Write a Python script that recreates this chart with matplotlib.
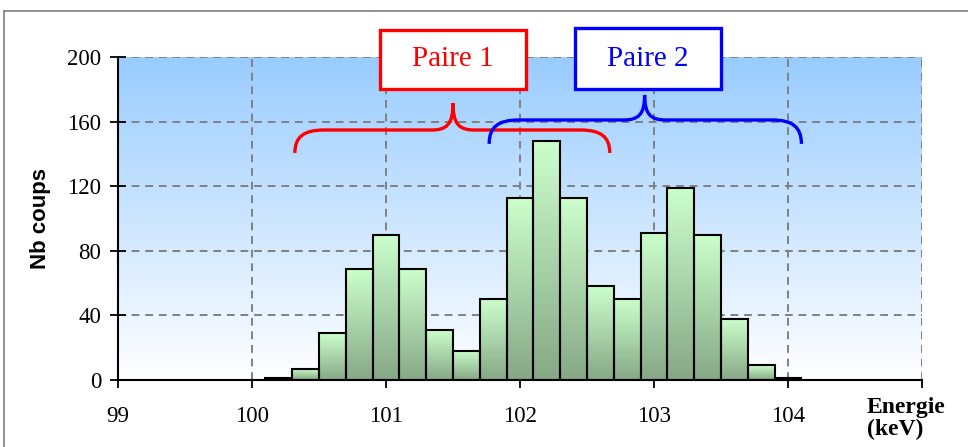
import numpy as np
import matplotlib
matplotlib.use('Agg')
import matplotlib.pyplot as plt
from matplotlib.colors import LinearSegmentedColormap
from matplotlib.path import Path
from matplotlib.patches import PathPatch, Rectangle
from matplotlib.lines import Line2D

# histogram data (bin centres in keV, counts)
energy = [100.2, 100.4, 100.6, 100.8, 101.0, 101.2, 101.4, 101.6, 101.8, 102.0,
          102.2, 102.4, 102.6, 102.8, 103.0, 103.2, 103.4, 103.6, 103.8, 104.0]
counts = [1, 7, 29, 69, 90, 69, 31, 18, 50, 113,
          148, 113, 58, 50, 91, 119, 90, 38, 9, 1]
bin_width = 0.2

x_ticks = [99, 100, 101, 102, 103, 104, 105]
x_labels = ['99', '100', '101', '102', '103', '104', '']
y_ticks = [0, 40, 80, 120, 160, 200]

# the two pairs: label, colour, energy span (left, right, tip)
pair_names = ['Paire 1', 'Paire 2']
pair_colors = ['#ff0000', '#0000ff']
pair_spans = [(100.32, 102.67, 101.50), (101.77, 104.10, 102.93)]
pair_levels = [(140.6, 154.8, 171.5), (146.2, 161.0, 176.5)]  # end, flat, tip

W, H = 968, 447
fig = plt.figure(figsize=(W / 100, H / 100), dpi=100)
ax = fig.add_axes([118 / W, 1 - 380 / H, (922 - 118) / W, (380 - 57) / H])

# outer gray frame
fig.add_artist(Line2D([4 / W, 4 / W], [0, 1 - 10.5 / H], color='#808080', lw=1.2,
                      transform=fig.transFigure))
fig.add_artist(Line2D([4 / W, 1], [1 - 10.5 / H, 1 - 10.5 / H], color='#808080', lw=1.2,
                      transform=fig.transFigure))

# background gradient
bg = LinearSegmentedColormap.from_list('bg', ['#ffffff', '#99ccff'])
grad = np.linspace(0, 1, 256).reshape(-1, 1)
ax.imshow(grad, extent=[99, 105, 0, 200], origin='lower', aspect='auto', cmap=bg, zorder=0.1)

# bars with vertical gradient
barcm = LinearSegmentedColormap.from_list('bar', ['#86a886', '#ccffcc'])
for e, c in zip(energy, counts):
    ax.imshow(grad, extent=[e - bin_width / 2, e + bin_width / 2, 0, c], origin='lower',
              aspect='auto', cmap=barcm, zorder=2)
ax.bar(energy, counts, width=bin_width, facecolor='none', edgecolor='black', lw=1.5, zorder=3)

ax.set_xlim(99, 105)
ax.set_ylim(0, 200)
ax.set_axisbelow(True)
ax.grid(True, color='#808080', ls=(0, (4, 3)), lw=1.4)

ax.set_xticks(x_ticks)
ax.set_xticklabels(x_labels)
ax.set_yticks(y_ticks)
for lab in ax.get_xticklabels() + ax.get_yticklabels():
    lab.set_family('Liberation Serif')
    lab.set_fontsize(16.5)
ax.tick_params(axis='x', direction='out', length=6, width=1.3, pad=13)
ax.tick_params(axis='y', direction='inout', length=12, width=1.3, pad=6)

for s in ['top', 'right']:
    ax.spines[s].set_visible(False)
for s in ['left', 'bottom']:
    ax.spines[s].set_linewidth(1.5)

ax.set_ylabel('Nb coups', family='Liberation Sans', fontweight='bold', fontsize=16, labelpad=12)
fig.text(867 / W, 1 - 397 / H, 'Energie\n(keV)', family='Liberation Serif', fontweight='bold',
         fontsize=17, ha='left', va='top', linespacing=1.05)


def brace(x1, x2, xt, ye, yh, yt):
    r = 0.22
    r2 = 0.16
    verts = [(x1, ye),
             (x1, ye + 0.7 * (yh - ye)), (x1 + 0.3 * r, yh), (x1 + r, yh),
             (xt - r2, yh),
             (xt - 0.3 * r2, yh), (xt, yh + 0.2 * (yt - yh)), (xt, yt),
             (xt, yh + 0.2 * (yt - yh)), (xt + 0.3 * r2, yh), (xt + r2, yh),
             (x2 - r, yh),
             (x2 - 0.3 * r, yh), (x2, ye + 0.7 * (yh - ye)), (x2, ye)]
    codes = [Path.MOVETO,
             Path.CURVE4, Path.CURVE4, Path.CURVE4,
             Path.LINETO,
             Path.CURVE4, Path.CURVE4, Path.CURVE4,
             Path.CURVE4, Path.CURVE4, Path.CURVE4,
             Path.LINETO,
             Path.CURVE4, Path.CURVE4, Path.CURVE4]
    return Path(verts, codes)


for (x1, x2, xt), (ye, yh, yt), col in zip(pair_spans, pair_levels, pair_colors):
    ax.add_patch(PathPatch(brace(x1, x2, xt, ye, yh, yt), fc='none', ec=col, lw=2.4,
                           zorder=5, clip_on=False, capstyle='butt'))

# label boxes (pixel positions)
boxes = [(380, 30, 526, 89), (575, 28, 721, 89)]
for (bx0, by0, bx1, by1), name, col in zip(boxes, pair_names, pair_colors):
    fig.add_artist(Rectangle((bx0 / W, 1 - by1 / H), (bx1 - bx0) / W, (by1 - by0) / H,
                             transform=fig.transFigure, fc='white', ec=col, lw=2.4, zorder=6))
    fig.text((bx0 + bx1) / 2 / W, 1 - (by0 + by1) / 2 / H, name, color=col,
             family='Liberation Serif', fontsize=21, ha='center', va='center', zorder=7)

fig.savefig('out.png', dpi=100)
